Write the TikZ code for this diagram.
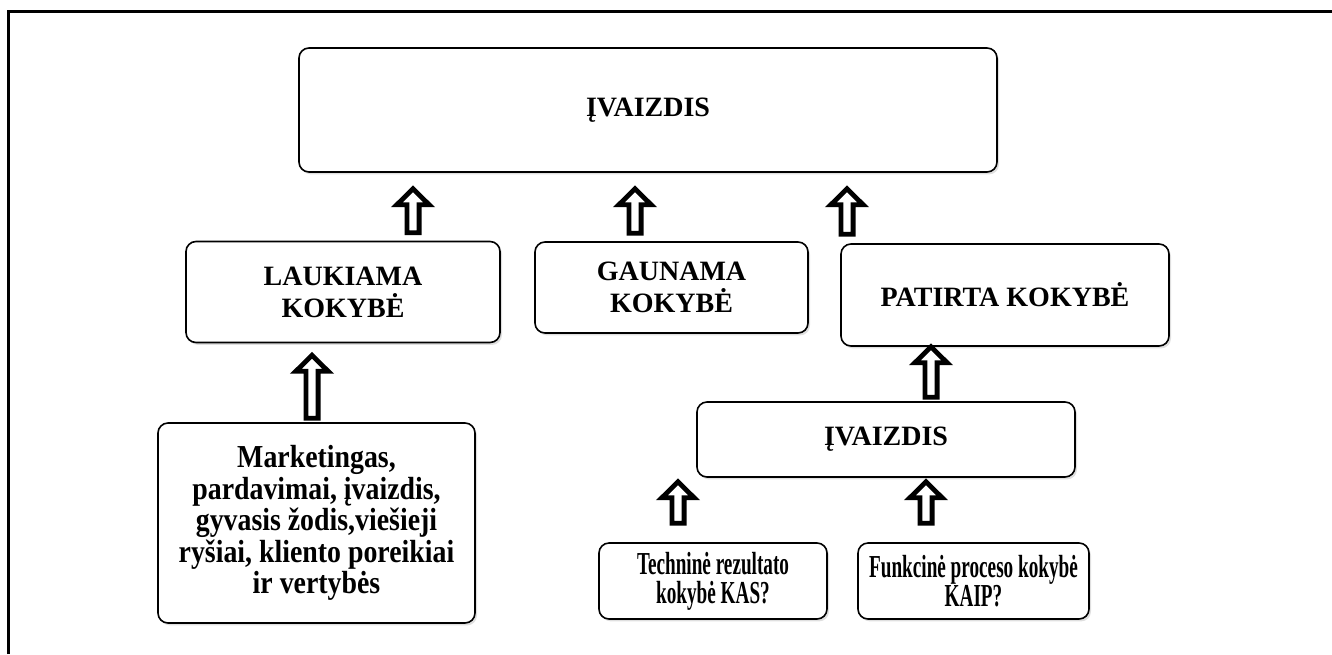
\documentclass[tikz,border=0pt]{standalone}
\usepackage{fontspec}
\setmainfont{Liberation Serif}
\newfontfamily\siaura[FakeStretch=0.6]{Liberation Serif}
\newfontfamily\platus[FakeStretch=0.87]{Liberation Serif}
\usetikzlibrary{calc,shadows}

% tuscia rodykle aukstyn: #1 apacia, #2 smaigalys
\newcommand{\rodykle}[2]{%
  \draw[rod] let \p1 = (#1), \p2 = (#2) in
    (\x1-3.05pt,\y1) -- (\x1-3.05pt,\y2-8pt) -- (\x1-8.1pt,\y2-8pt)
    -- (\x1,\y2) -- (\x1+8.1pt,\y2-8pt) -- (\x1+3.05pt,\y2-8pt)
    -- (\x1+3.05pt,\y1) -- cycle;}

\begin{document}
\begin{tikzpicture}[x=0.5pt, y=-0.5pt,
    blokas/.style = {draw, rounded corners=5pt, line width=0.8pt, fill=white,
        inner sep=0pt, align=center,
        drop shadow={opacity=0.25, shadow xshift=1pt, shadow yshift=-1.2pt},
        font=\bfseries\fontsize{14}{16}\selectfont},
    rod/.style = {draw, line width=2.4pt, fill=white, line join=miter}]
    \useasboundingbox (0,0) rectangle (1332,654);
    % remelis
    \draw[line width=1.5pt] (8,654) -- (8,11) -- (1332,11);

    % Mazgai
    \node[blokas, minimum width=349pt, minimum height=62pt] (virsus) at (648,110) {ĮVAIZDIS};

    \node[blokas, minimum width=157pt, minimum height=50.5pt] (lauk) at (343,292) {LAUKIAMA\\KOKYBĖ};

    \node[blokas, minimum width=136.5pt, minimum height=45.5pt] (gaun) at (671.5,287.5) {GAUNAMA\\KOKYBĖ};

    \node[blokas, minimum width=164pt, minimum height=51pt] (patir) at (1005,295) {PATIRTA KOKYBĖ};

    \node[blokas, minimum width=158.5pt, minimum height=100pt,
          font=\platus\bfseries\fontsize{16}{13.3}\selectfont] (mark) at (316.5,523)
          {Marketingas,\\pardavimai, įvaizdis,\\gyvasis žodis,viešieji\\ryšiai, kliento poreikiai\\ir vertybės};

    \node[blokas, minimum width=189pt, minimum height=37.5pt] (ivaiz) at (886,439.5) {ĮVAIZDIS};

    \node[blokas, minimum width=114pt, minimum height=38pt,
          font=\siaura\bfseries\fontsize{16}{14.5}\selectfont] (tech) at (713,581)
          {Techninė rezultato\\kokybė KAS?};

    \node[blokas, minimum width=115.5pt, minimum height=38pt,
          font=\siaura\bfseries\fontsize{16}{14.5}\selectfont] (funk) at (973.5,581)
          {Funkcinė proceso kokybė\\KAIP?};

    % Rodykles
    \rodykle{$(lauk.north -| 413,0)+(0,-8)$}{$(virsus.south -| 413,0)+(0,16)$}
    \rodykle{$(gaun.north -| 635,0)+(0,-8)$}{$(virsus.south -| 635,0)+(0,16)$}
    \rodykle{$(patir.north -| 847,0)+(0,-9)$}{$(virsus.south -| 847,0)+(0,16)$}
    \rodykle{$(mark.north -| 312,0)+(0,-4)$}{$(lauk.south -| 312,0)+(0,12)$}
    \rodykle{$(ivaiz.north -| 931,0)+(0,-4)$}{$(patir.south -| 931,0)+(0,0)$}
    \rodykle{$(tech.north -| 678,0)+(0,-19)$}{$(ivaiz.south -| 678,0)+(0,4)$}
    \rodykle{$(funk.north -| 926,0)+(0,-19)$}{$(ivaiz.south -| 926,0)+(0,4)$}
\end{tikzpicture}
\end{document}
